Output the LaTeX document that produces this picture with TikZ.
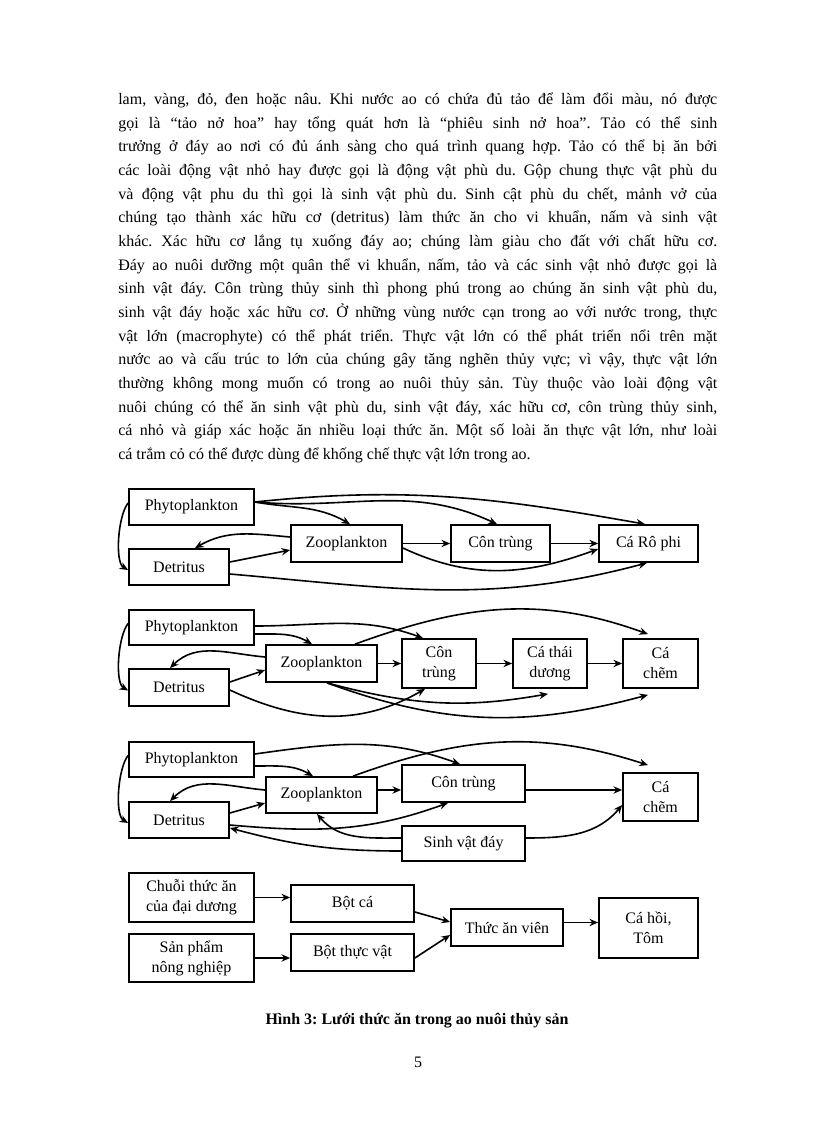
\documentclass[tikz,border=0pt]{standalone}
\usepackage{fontspec}
\setmainfont{Liberation Serif}
\usetikzlibrary{arrows.meta}
\frenchspacing
\tikzset{
	food/.style={
		rectangle,
		draw,
		line width=1.3pt,
		inner sep=0pt,
		align=center,
		font=\fontsize{12}{15}\selectfont
	},
	boxsize/.style 2 args={minimum width=#1*0.75pt, minimum height=#2*0.75pt},
	feeds/.style={
		-{Stealth[length=6.5pt,width=5.5pt]},
		line width=1.2pt
	},
	textline/.style={anchor=base west, inner sep=0pt, font=\fontsize{12}{15}\selectfont}
}

\begin{document}
\begin{tikzpicture}[x=0.75pt, y=-0.75pt]
\fill[white] (0,0) rectangle (816,1123);
\useasboundingbox (0,0) rectangle (816,1123);

% text above the figure
\foreach \txt [count=\i] in {
	{lam, vàng, đỏ, đen hoặc nâu. Khi nước ao có chứa đủ tảo để làm đổi màu, nó được},
	{gọi là “tảo nở hoa” hay tổng quát hơn là “phiêu sinh nở hoa”. Tảo có thể sinh},
	{trưởng ở đáy ao nơi có đủ ánh sàng cho quá trình quang hợp. Tảo có thể bị ăn bởi},
	{các loài động vật nhỏ hay được gọi là động vật phù du. Gộp chung thực vật phù du},
	{và động vật phu du thì gọi là sinh vật phù du. Sinh cật phù du chết, mảnh vở của},
	{chúng tạo thành xác hữu cơ (detritus) làm thức ăn cho vi khuẩn, nấm và sinh vật},
	{khác. Xác hữu cơ lắng tụ xuống đáy ao; chúng làm giàu cho đất với chất hữu cơ.},
	{Đáy ao nuôi dưỡng một quân thể vi khuẩn, nấm, tảo và các sinh vật nhỏ được gọi là},
	{sinh vật đáy. Côn trùng thủy sinh thì phong phú trong ao chúng ăn sinh vật phù du,},
	{sinh vật đáy hoặc xác hữu cơ. Ở những vùng nước cạn trong ao với nước trong, thực},
	{vật lớn (macrophyte) có thể phát triển. Thực vật lớn có thể phát triển nổi trên mặt},
	{nước ao và cấu trúc to lớn của chúng gây tăng nghẽn thủy vực; vì vậy, thực vật lớn},
	{thường không mong muốn có trong ao nuôi thủy sản. Tùy thuộc vào loài động vật},
	{nuôi chúng có thể ăn sinh vật phù du, sinh vật đáy, xác hữu cơ, côn trùng thủy sinh,},
	{cá nhỏ và giáp xác hoặc ăn nhiều loại thức ăn. Một số loài ăn thực vật lớn, như loài}}
	\node[textline] (line\i) at (118,{104.5+23.67*(\i-1)}) {\makebox[449.25pt][s]{\txt}};
\node[textline] (line16) at (118,459.5) {cá trắm cỏ có thể được dùng để khống chế thực vật lớn trong ao.};

% web 1
\node[food, boxsize={125}{36}] (phytoA) at (191.5,507) {Phytoplankton};
\node[food, boxsize={111}{37}] (zooA) at (346.5,543.5) {Zooplankton};
\node[food, boxsize={99}{37}] (conA) at (500.5,543.5) {Côn trùng};
\node[food, boxsize={99}{37}] (rophiA) at (648.5,543.5) {Cá Rô phi};
\node[food, boxsize={100}{36}] (detA) at (179,567) {Detritus};

\draw[feeds] ([shift={(0,-5)}]phytoA.east) to[out=6,in=170] ([shift={(-3.5,0)}]rophiA.north);
\draw[feeds] ([shift={(0,-5)}]phytoA.east) to[out=-5,in=155] ([shift={(-3.5,0)}]conA.north);
\draw[feeds] ([shift={(0,-5)}]phytoA.east) to[out=-10,in=150] ([shift={(3.5,0)}]zooA.north);
\draw[feeds] ([shift={(0,-4)}]phytoA.west) to[out=230,in=150,looseness=0.6] ([shift={(0,3)}]detA.west);
\draw[feeds] ([shift={(0,-6.5)}]zooA.west) to[out=175,in=30] ([shift={(16,0)}]detA.north);
\draw[feeds] ([shift={(0,-5)}]detA.east) -- ([shift={(0,6.5)}]zooA.west);
\draw[feeds] (zooA) -- (conA);
\draw[feeds] (conA) -- (rophiA);
\draw[feeds] ([shift={(0,4.5)}]zooA.east) to[out=-25,in=200] ([shift={(0,5.5)}]rophiA.west);
\draw[feeds] ([shift={(0,7)}]detA.east) to[out=-5,in=195] ([shift={(-1.5,0)}]rophiA.south);

% web 2
\node[food, boxsize={125}{35}] (phytoB) at (191.5,627.5) {Phytoplankton};
\node[food, boxsize={111}{37}] (zooB) at (321.5,663.5) {Zooplankton};
\node[food, boxsize={74}{49}] (conB) at (439,663.5) {Côn\\trùng};
\node[food, boxsize={74}{49}] (thaiB) at (550,663.5) {Cá thái\\dương};
\node[food, boxsize={75}{49}] (chemB) at (660.5,663.5) {Cá\\chẽm};
\node[food, boxsize={100}{37}] (detB) at (179,687.5) {Detritus};

\draw[feeds] ([shift={(0,-1.5)}]phytoB.east) to[out=0,in=160] ([shift={(-16,0)}]conB.north);
\draw[feeds] ([shift={(0,6.5)}]phytoB.east) to[out=0,in=150] ([shift={(-9.5,0)}]zooB.north);
\draw[feeds] ([shift={(33.5,0)}]zooB.north) to[out=20,in=160] ([shift={(-12.5,-4)}]chemB.north);
\draw[feeds] ([shift={(0,-4)}]phytoB.west) to[out=230,in=150,looseness=0.6] ([shift={(0,3)}]detB.west);
\draw[feeds] ([shift={(0,-6.5)}]zooB.west) to[out=175,in=45] ([shift={(-9,0)}]detB.north);
\draw[feeds] ([shift={(0,-5.5)}]detB.east) -- ([shift={(0,6.5)}]zooB.west);
\draw[feeds] (zooB) -- (conB);
\draw[feeds] (conB) -- (thaiB);
\draw[feeds] (thaiB) -- (chemB);
\draw[feeds] ([shift={(0,2.5)}]detB.east) to[out=-25,in=210] ([shift={(-14,0)}]conB.south);
\draw[feeds] ([shift={(5.5,0)}]zooB.south) to[out=-15,in=190] ([shift={(-2,5)}]thaiB.south);
\draw[feeds] ([shift={(5.5,0)}]zooB.south) to[out=-20,in=195] ([shift={(-12.5,6)}]chemB.south);

% web 3
\node[food, boxsize={125}{35}] (phytoC) at (191.5,759.5) {Phytoplankton};
\node[food, boxsize={111}{36}] (zooC) at (321.5,795) {Zooplankton};
\node[food, boxsize={123}{37}] (conC) at (463.5,783.5) {Côn trùng};
\node[food, boxsize={75}{48}] (chemC) at (660.5,797) {Cá\\chẽm};
\node[food, boxsize={100}{36}] (detC) at (179,820) {Detritus};
\node[food, boxsize={123}{35}] (dayC) at (463.5,843.5) {Sinh vật đáy};

\draw[feeds] ([shift={(0,-5.5)}]phytoC.east) to[out=8,in=160] ([shift={(-3.5,0)}]conC.north);
\draw[feeds] ([shift={(0,6.5)}]phytoC.east) to[out=0,in=150] ([shift={(-8.5,0)}]zooC.north);
\draw[feeds] ([shift={(31.5,0)}]zooC.north) to[out=20,in=162] ([shift={(-12.5,-7)}]chemC.north);
\draw[feeds] ([shift={(0,-4)}]phytoC.west) to[out=230,in=150,looseness=0.6] ([shift={(0,3)}]detC.west);
\draw[feeds] ([shift={(0,-5)}]zooC.west) to[out=175,in=45] ([shift={(-9,0)}]detC.north);
\draw[feeds] ([shift={(0,-7)}]detC.east) -- ([shift={(0,8)}]zooC.west);
\draw[feeds] ([shift={(0,-5)}]zooC.east) -- ([shift={(0,6.5)}]conC.west);
\draw[feeds] ([shift={(0,5)}]detC.east) to[out=-5,in=200] ([shift={(-15.5,0)}]conC.south);
\draw[feeds] ([shift={(0,-5.5)}]dayC.west) to[out=180,in=-50] ([shift={(-4.5,0)}]zooC.south);
\draw[feeds] ([shift={(0,7.5)}]dayC.west) to[out=180,in=-15] ([shift={(0,8)}]detC.east);
\draw[feeds] ([shift={(0,6.5)}]conC.east) -- ([shift={(0,-7)}]chemC.west);
\draw[feeds] ([shift={(0,-5.5)}]dayC.east) to[out=0,in=230] ([shift={(0,8)}]chemC.west);

% feed chain
\node[food, boxsize={125}{49}] (chuoiD) at (191.5,897.5) {Chuỗi thức ăn\\của đại dương};
\node[food, boxsize={125}{48}] (sanD) at (191.5,958) {Sản phẩm\\nông nghiệp};
\node[food, boxsize={123}{37}] (botcaD) at (352.5,903.5) {Bột cá};
\node[food, boxsize={123}{37}] (botvatD) at (352.5,952.5) {Bột thực vật};
\node[food, boxsize={112}{37}] (vienD) at (507,927.5) {Thức ăn viên};
\node[food, boxsize={99}{60}] (hoiD) at (648.5,928) {Cá hồi,\\Tôm};

\draw[feeds] (chuoiD.east) -- (chuoiD.east -| botcaD.west);
\draw[feeds] (sanD.east) -- (sanD.east -| botvatD.west);
\draw[feeds] ([shift={(0,8.5)}]botcaD.east) -- ([shift={(0,-5.5)}]vienD.west);
\draw[feeds] ([shift={(0,5.5)}]botvatD.east) -- ([shift={(0,7.5)}]vienD.west);
\draw[feeds] ([shift={(0,-5)}]vienD.east) -- ([shift={(0,-5.5)}]hoiD.west);

\node[font=\fontsize{12}{15}\selectfont\bfseries] (caption) at (417,1021) {Hình 3: Lưới thức ăn trong ao nuôi thủy sản};
\node[font=\fontsize{12}{15}\selectfont] (pageno) at (418,1062) {5};
\end{tikzpicture}
\end{document}
